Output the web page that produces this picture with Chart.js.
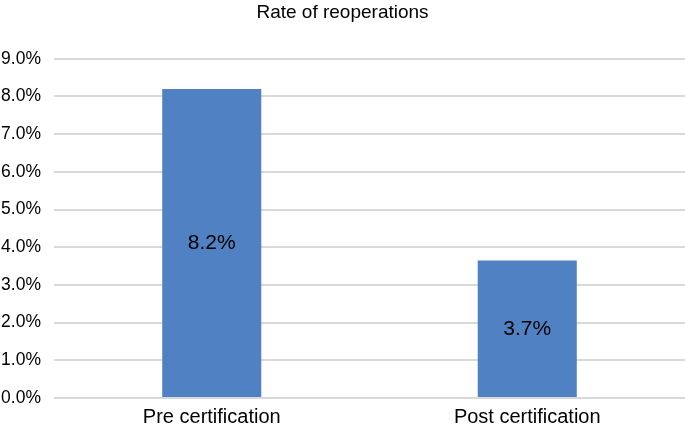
<!DOCTYPE html>
<html>
<head>
<meta charset="utf-8">
<script src="https://cdn.jsdelivr.net/npm/chart.js@4/dist/chart.umd.min.js"></script>
<style>
  html, body { margin: 0; padding: 0; background: #fff; }
  #wrap { width: 685px; height: 427px; }
</style>
</head>
<body>
<div id="wrap"><canvas id="chart" width="685" height="427"></canvas></div>
<script>
// Données du graphique
const categories = ['Pre certification', 'Post certification'];
const reoperationRates = [8.2, 3.65];
const valueLabels = ['8.2%', '3.7%'];
const yTicks = [0, 1, 2, 3, 4, 5, 6, 7, 8, 9];

const fontFamily = '"Liberation Sans", Arial, Helvetica, sans-serif';

// Plugin qui écrit la valeur au milieu de chaque barre
const barValuePlugin = {
    id: 'barValue',
    afterDatasetsDraw(chart) {
        const ctx = chart.ctx;
        const meta = chart.getDatasetMeta(0);
        ctx.save();
        ctx.font = '21px ' + fontFamily;
        ctx.fillStyle = '#000';
        ctx.textAlign = 'center';
        ctx.textBaseline = 'middle';
        meta.data.forEach((bar, i) => {
            const mid = (bar.y + bar.base) / 2;
            ctx.fillText(valueLabels[i], bar.x, mid);
        });
        ctx.restore();
    }
};

new Chart(document.getElementById('chart'), {
    type: 'bar',
    data: {
        labels: categories,
        datasets: [{
            data: reoperationRates,
            backgroundColor: '#4f81c3',
            borderWidth: 0,
            barPercentage: 0.314,
            categoryPercentage: 1.0
        }]
    },
    options: {
        responsive: false,
        animation: false,
        layout: { padding: 0 },
        plugins: {
            legend: { display: false },
            tooltip: { enabled: false },
            title: {
                display: true,
                text: 'Rate of reoperations',
                color: '#000',
                font: { family: fontFamily, size: 19, weight: 'normal' },
                padding: { top: 1, bottom: 35 }
            }
        },
        scales: {
            x: {
                afterFit(scale) { scale.height = 29; },
                grid: { display: false, drawTicks: false },
                border: { display: false },
                ticks: {
                    color: '#000',
                    font: { family: fontFamily, size: 20 },
                    padding: 7
                }
            },
            y: {
                min: 0,
                max: 9,
                afterFit(scale) { scale.width = 54; },
                afterBuildTicks(scale) {
                    scale.ticks = yTicks.map(v => ({ value: v }));
                },
                grid: { color: '#d9d9d9', lineWidth: 2, drawTicks: false },
                border: { display: false },
                ticks: {
                    color: '#000',
                    font: { family: fontFamily, size: 17.5 },
                    padding: 13,
                    callback: v => v.toFixed(1) + '%'
                }
            }
        }
    },
    plugins: [barValuePlugin]
});
</script>
</body>
</html>
